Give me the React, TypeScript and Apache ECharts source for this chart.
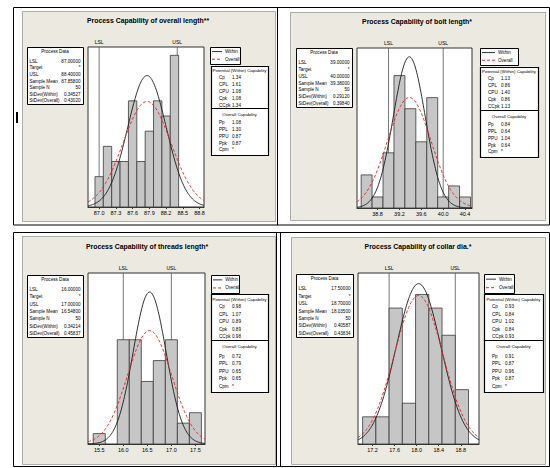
import React, { useEffect, useRef } from 'react';
import * as echarts from 'echarts';

// ---------------- Data ----------------
const titles = [
  'Process Capability of overall length**',
  'Process Capability of bolt length*',
  'Process Capability of threads length*',
  'Process Capability of collar dia.*',
];
const specLabels = ['LSL', 'USL'];
const lsl = [87.0, 39.0, 16.0, 17.5];
const usl = [88.4, 40.0, 17.0, 18.7];
const sampleMean = [87.858, 39.38, 16.548, 18.035];
const sampleN = [50, 50, 50, 50];
const sdWithin = [0.34527, 0.2912, 0.34214, 0.40587];
const sdOverall = [0.4302, 0.3984, 0.45837, 0.43834];

const binStart = [86.925, 38.5, 15.375, 17.02];
const binWidth = [0.15, 0.2, 0.25, 0.24];
const counts1 = [2, 4, 3, 3, 7, 3, 5, 7, 6, 10];
const counts2 = [3, 1, 5, 12, 9, 6, 10, 1, 2, 1];
const counts3 = [1, 0, 10, 10, 6, 8, 10, 2, 3];
const counts4 = [2, 2, 10, 3, 11, 10, 8, 4];
const allCounts = [counts1, counts2, counts3, counts4];

const ticks1 = [87.0, 87.3, 87.6, 87.9, 88.2, 88.5, 88.8];
const ticks2 = [38.8, 39.2, 39.6, 40.0, 40.4];
const ticks3 = [15.5, 16.0, 16.5, 17.0, 17.5];
const ticks4 = [17.2, 17.6, 18.0, 18.4, 18.8];
const allTicks = [ticks1, ticks2, ticks3, ticks4];

const processLabels = ['LSL', 'Target', 'USL', 'Sample Mean', 'Sample N', 'StDev(Within)', 'StDev(Overall)'];
const potentialLabels = ['Cp', 'CPL', 'CPU', 'Cpk', 'CCpk'];
const overallLabels = ['Pp', 'PPL', 'PPU', 'Ppk', 'Cpm'];
const potential1 = ['1.34', '1.61', '1.08', '1.08', '1.34'];
const potential2 = ['1.13', '0.86', '1.40', '0.86', '1.13'];
const potential3 = ['0.98', '1.07', '0.89', '0.89', '0.98'];
const potential4 = ['0.93', '0.84', '1.02', '0.84', '0.93'];
const overall1 = ['1.08', '1.30', '0.87', '0.87', '*'];
const overall2 = ['0.84', '0.64', '1.04', '0.64', '*'];
const overall3 = ['0.72', '0.79', '0.65', '0.65', '*'];
const overall4 = ['0.91', '0.87', '0.96', '0.87', '*'];
const allPotential = [potential1, potential2, potential3, potential4];
const allOverall = [overall1, overall2, overall3, overall4];

// ---------------- Layout ----------------
const layout = [
  { grid: { left: 88, top: 47, width: 116, height: 160 }, xMin: 86.8, xMax: 88.88, yMax: 10.55,
    title: [148, 20], pd: [27, 47, 56, 57], lg: [210, 47, 30, 17], cap: [211, 66, 57, 108, 155] },
  { grid: { left: 357, top: 48, width: 115, height: 160 }, xMin: 38.424, xMax: 40.527, yMax: 14.5,
    title: [417, 21], pd: [296, 48, 56, 59], lg: [480, 48, 38, 17], cap: [480, 67, 58, 110, 157] },
  { grid: { left: 88, top: 273, width: 117, height: 171 }, xMin: 15.266, xMax: 17.7, yMax: 16.4,
    title: [147, 246], pd: [27, 275, 56, 62], lg: [211, 275, 28, 18], cap: [211, 294, 57, 340, 392] },
  { grid: { left: 358, top: 273, width: 121, height: 171 }, xMin: 16.936, xMax: 19.13, yMax: 12.58,
    title: [418, 246], pd: [296, 274, 57, 63], lg: [484, 274, 30, 19], cap: [484, 294, 59, 340, 392] },
];

const FONT = '"Liberation Sans", Arial, sans-serif';
const BEIGE = '#ECE9E1';

function normalCurve(mean: number, sd: number, scale: number, min: number, max: number) {
  const pts: number[][] = [];
  const n = 160;
  for (let i = 0; i <= n; i++) {
    const x = min + ((max - min) * i) / n;
    const z = (x - mean) / sd;
    pts.push([x, (scale / (sd * Math.sqrt(2 * Math.PI))) * Math.exp(-0.5 * z * z)]);
  }
  return pts;
}

function txt(x: number, y: number, text: string, size: number, align = 'left', weight = 'normal', color = '#000') {
  return {
    type: 'text',
    z: 20,
    silent: true,
    style: { x, y, text, fill: color, fontSize: size, fontFamily: FONT, fontWeight: weight, textAlign: align, textVerticalAlign: 'middle' },
  };
}
function box(x: number, y: number, w: number, h: number, lw = 1, fill = '#fff', stroke = '#000', z = 15) {
  return { type: 'rect', z, silent: true, shape: { x, y, width: w, height: h }, style: { fill, stroke, lineWidth: lw } };
}
function line(x1: number, y1: number, x2: number, y2: number, stroke: string, lw = 1, dash: any = null, z = 15) {
  return { type: 'line', z, silent: true, shape: { x1, y1, x2, y2 }, style: { stroke, lineWidth: lw, lineDash: dash } };
}

function buildOption() {
  const grids: any[] = [];
  const xAxes: any[] = [];
  const yAxes: any[] = [];
  const series: any[] = [];
  const graphics: any[] = [];

  // frames and panel backgrounds
  graphics.push(box(13.5, 7.5, 536, 217.5, 1, 'none', '#000', -5));
  graphics.push(line(277.5, 7.5, 277.5, 225, '#000', 1, null, -5));
  graphics.push(box(22.5, 11.5, 253, 210, 0.8, BEIGE, '#999', -4));
  graphics.push(box(290.5, 12.5, 255, 208, 0.8, BEIGE, '#999', -4));
  graphics.push(box(13.5, 232.5, 536, 234, 1, 'none', '#000', -5));
  graphics.push(line(276.5, 232.5, 276.5, 466.5, '#000', 1, null, -5));
  graphics.push(line(280.5, 232.5, 280.5, 466.5, '#000', 1, null, -5));
  graphics.push(box(22.5, 236.5, 253, 228, 0.8, BEIGE, '#999', -4));
  graphics.push(box(291.5, 237.5, 254, 227, 0.8, BEIGE, '#999', -4));
  graphics.push(box(16, 112, 2, 11, 0, '#000', '#000', -3));

  layout.forEach((L, i) => {
    grids.push({ ...L.grid, show: true, backgroundColor: '#fff', borderColor: '#333', borderWidth: 1, z: 1 });
    xAxes.push({
      type: 'value', gridIndex: i, min: L.xMin, max: L.xMax,
      axisLine: { show: true, lineStyle: { color: '#333', width: 1 } },
      axisTick: { show: true, customValues: allTicks[i], length: 2, lineStyle: { color: '#333' } },
      axisLabel: { show: true, customValues: allTicks[i], formatter: (v: number) => v.toFixed(1), fontSize: 5.5, fontFamily: FONT, color: '#000', margin: 3 },
      splitLine: { show: false },
    });
    yAxes.push({ type: 'value', gridIndex: i, min: 0, max: L.yMax, show: false, splitLine: { show: false } });

    const counts = allCounts[i];
    const bins = counts.map((c, k) => [binStart[i] + k * binWidth[i], binStart[i] + (k + 1) * binWidth[i], c]);
    const scale = sampleN[i] * binWidth[i];

    // spec limit lines (behind bars)
    series.push({
      type: 'custom', xAxisIndex: i, yAxisIndex: i, z: 1, silent: true, clip: false,
      data: [[lsl[i], 0], [usl[i], 1]],
      encode: { x: 0 },
      renderItem: (params: any, api: any) => {
        const cs = params.coordSys;
        const x = api.coord([api.value(0), 0])[0];
        return {
          type: 'group',
          children: [
            { type: 'line', shape: { x1: x, y1: cs.y, x2: x, y2: cs.y + cs.height }, style: { stroke: '#555', lineWidth: 0.8 } },
            { type: 'text', style: { x, y: cs.y - 3, text: specLabels[api.value(1)], fontSize: 5, fontFamily: FONT, fill: '#000', textAlign: 'center', textVerticalAlign: 'bottom' } },
          ],
        };
      },
    });
    // histogram
    series.push({
      type: 'custom', xAxisIndex: i, yAxisIndex: i, z: 2, silent: true,
      data: bins,
      encode: { x: [0, 1], y: 2 },
      renderItem: (params: any, api: any) => {
        const s = api.value(0), e = api.value(1), c = api.value(2);
        if (!c) return null;
        const p0 = api.coord([s, 0]);
        const p1 = api.coord([e, c]);
        return {
          type: 'rect',
          shape: { x: p0[0], y: p1[1], width: p1[0] - p0[0], height: p0[1] - p1[1] },
          style: { fill: '#C6C6C6', stroke: '#3a3a3a', lineWidth: 0.8 },
        };
      },
    });
    // fitted curves
    series.push({
      type: 'line', name: 'Within', xAxisIndex: i, yAxisIndex: i, z: 3, silent: true,
      showSymbol: false, symbol: 'none', smooth: false,
      lineStyle: { color: '#1a1a1a', width: 0.9 },
      data: normalCurve(sampleMean[i], sdWithin[i], scale, L.xMin, L.xMax),
    });
    series.push({
      type: 'line', name: 'Overall', xAxisIndex: i, yAxisIndex: i, z: 4, silent: true,
      showSymbol: false, symbol: 'none', smooth: false,
      lineStyle: { color: '#E8282B', width: 1, type: [3, 2] },
      data: normalCurve(sampleMean[i], sdOverall[i], scale, L.xMin, L.xMax),
    });

    // title
    graphics.push(txt(L.title[0], L.title[1], titles[i], 6.9, 'center', 'bold'));

    // process data box
    const [px, py, pw, ph] = L.pd;
    graphics.push(box(px + 0.5, py + 0.5, pw, ph, 1));
    graphics.push(txt(px + pw / 2, py + 4.5, 'Process Data', 4.6, 'center'));
    const pvals = [
      lsl[i].toFixed(5), '*', usl[i].toFixed(5), sampleMean[i].toFixed(5), String(sampleN[i]),
      sdWithin[i].toFixed(5), sdOverall[i].toFixed(5),
    ];
    const step = (ph - 11) / 7;
    processLabels.forEach((lab, k) => {
      const yy = py + 11 + step * (k + 0.5);
      graphics.push(txt(px + 2.5, yy, lab, 4.6, 'left'));
      graphics.push(txt(px + pw - 2.5, yy, pvals[k], 4.6, 'right'));
    });

    // legend box
    const [lx, ly, lw, lh] = L.lg;
    graphics.push(box(lx + 0.5, ly + 0.5, lw, lh, 1));
    const lineEnd = lx + Math.min(15, lw * 0.4);
    graphics.push(line(lx + 2, ly + lh * 0.27, lineEnd, ly + lh * 0.27, '#1a1a1a', 0.9, null, 16));
    graphics.push(line(lx + 2, ly + lh * 0.72, lineEnd, ly + lh * 0.72, '#E8282B', 1, [3, 2], 16));
    graphics.push(txt(lineEnd + 3, ly + lh * 0.27, 'Within', 4.6));
    graphics.push(txt(lineEnd + 3, ly + lh * 0.72, 'Overall', 4.6));

    // capability boxes
    const [cx, cy, cw, cmid, cbot] = L.cap;
    graphics.push(box(cx + 0.5, cy + 0.5, cw, cmid - cy, 1.2));
    graphics.push(box(cx + 0.5, cmid + 0.5, cw, cbot - cmid, 1.2));
    const h1 = cmid - cy;
    const h2 = cbot - cmid;
    graphics.push(txt(cx + cw / 2, cy + h1 * 0.11, 'Potential (Within) Capability', 4.4, 'center'));
    potentialLabels.forEach((lab, k) => {
      const yy = cy + h1 * (0.27 + 0.165 * k);
      graphics.push(txt(cx + 8, yy, lab, 4.6));
      graphics.push(txt(cx + 21, yy, allPotential[i][k], 4.6));
    });
    graphics.push(txt(cx + cw / 2, cmid + h2 * 0.13, 'Overall Capability', 4.4, 'center'));
    overallLabels.forEach((lab, k) => {
      const yy = cmid + h2 * (0.31 + 0.145 * k);
      graphics.push(txt(cx + 8, yy, lab, 4.6));
      graphics.push(txt(cx + 21, yy, allOverall[i][k], 4.6));
    });
  });

  return {
    animation: false,
    backgroundColor: '#fff',
    grid: grids,
    xAxis: xAxes,
    yAxis: yAxes,
    series,
    graphic: { elements: graphics },
  };
}

export default function App() {
  const ref = useRef<HTMLDivElement>(null);
  useEffect(() => {
    if (!ref.current) return;
    const chart = echarts.init(ref.current, null, { renderer: 'svg' });
    chart.setOption(buildOption() as any);
    return () => chart.dispose();
  }, []);
  return <div ref={ref} style={{ position: 'absolute', left: 0, top: 0, width: 550, height: 468 }} />;
}
